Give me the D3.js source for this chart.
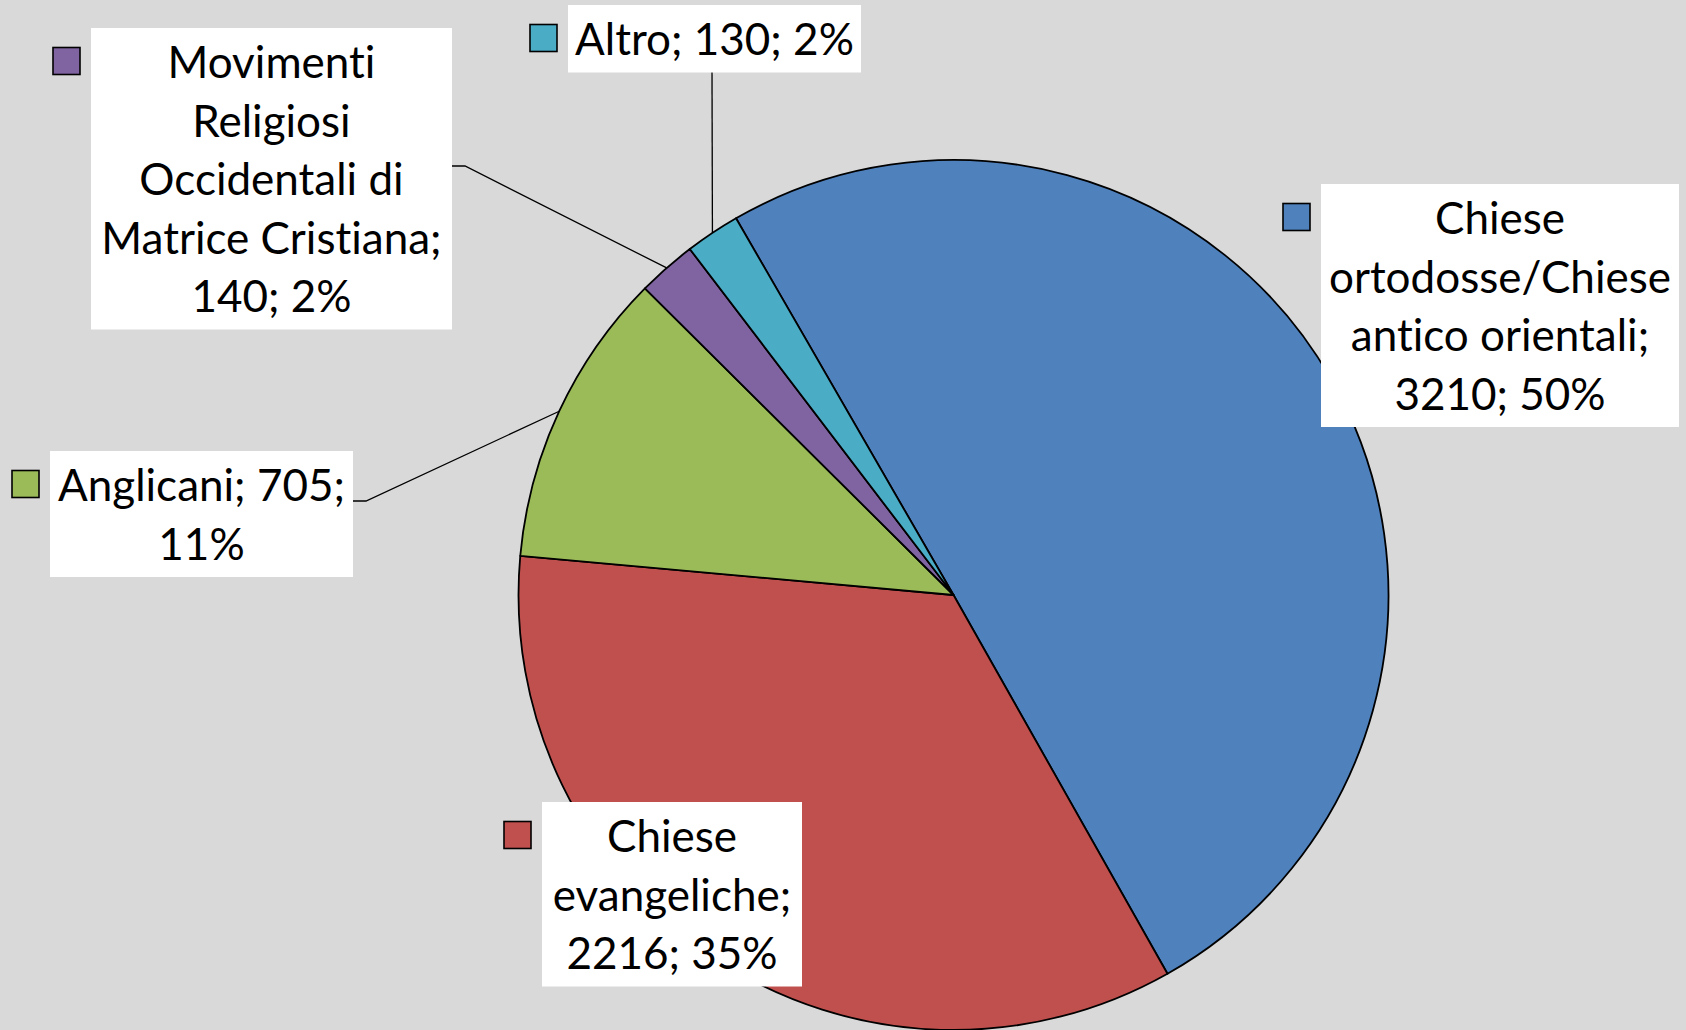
<!DOCTYPE html>
<html><head><meta charset="utf-8">
<script src="https://cdn.jsdelivr.net/npm/d3@7"></script>
<style>html,body{margin:0;padding:0;background:#d9d9d9;overflow:hidden}
text{font-variant-ligatures:none;font-feature-settings:"liga" 0,"clig" 0}</style>
</head><body><svg id="c" width="1686" height="1030"></svg>
<script>
// ---- data ----
const categories = ["Chiese ortodosse/Chiese antico orientali", "Chiese evangeliche", "Anglicani",
  "Movimenti Religiosi Occidentali di Matrice Cristiana", "Altro"];
const values = [3210, 2216, 705, 140, 130];
// words per wrapped label line
const lineWordCounts = [[1, 1, 2, 2], [1, 1, 2], [2, 1], [1, 1, 2, 2, 2], [3]];

// ---- styles / layout ----
const colors = ["#4F81BD", "#C0504D", "#9BBB59", "#8064A2", "#4BACC6"];
const boxes = [ // x, y, width of label box
  [1321, 184, 358], [542, 802, 260], [50, 451, 303], [91, 28, 361], [568, 5, 293]];
const leaders = [null, null, [[353, 501], [366, 501]], [[452, 166], [465, 166]], [[712, 72]]];
const cx = 953.5, cy = 595, R = 435;
const lineH = 58.5, pad = 4.5, baseOff = 50;
const fontFamily = "Lato, 'Open Sans', sans-serif", fontSize = 44;

const svg = d3.select("#c");
svg.append("rect").attr("width", 1686).attr("height", 1030).attr("fill", "#d9d9d9");

const total = d3.sum(values);
const data = categories.map((c, i) => ({c, v: values[i], i}));
const pie = d3.pie().sort(null).value(d => d.v)
  .startAngle(-30 * Math.PI / 180).endAngle(330 * Math.PI / 180);
const arcs = pie(data);
const arc = d3.arc().innerRadius(0).outerRadius(R);
const edgeArc = d3.arc().innerRadius(R).outerRadius(R);

const g = svg.append("g").attr("transform", `translate(${cx},${cy})`);
g.selectAll("path").data(arcs).join("path")
  .attr("d", arc).attr("fill", d => colors[d.data.i])
  .attr("stroke", "#000").attr("stroke-width", 1.8).attr("stroke-linejoin", "round");

// leader lines
arcs.forEach(a => {
  const L = leaders[a.data.i];
  if (!L) return;
  const e = edgeArc.centroid(a);
  const pts = L.map(p => [p[0], p[1]]).concat([[cx + e[0], cy + e[1]]]);
  svg.append("path").attr("d", d3.line()(pts)).attr("fill", "none")
    .attr("stroke", "#000").attr("stroke-width", 1.3);
});

// labels
arcs.forEach(a => {
  const i = a.data.i;
  const pct = Math.round(a.data.v / total * 100);
  const words = `${a.data.c}; ${a.data.v}; ${pct}%`.split(" ");
  const lines = [];
  let k = 0;
  lineWordCounts[i].forEach(n => { lines.push(words.slice(k, k + n).join(" ")); k += n; });
  const [bx, by, bw] = boxes[i];
  const bh = lines.length * lineH + 2 * pad;
  svg.append("rect").attr("x", bx).attr("y", by).attr("width", bw).attr("height", bh).attr("fill", "#fff");
  svg.append("rect").attr("x", bx - 38).attr("y", by + 19.5).attr("width", 27).attr("height", 27)
    .attr("fill", colors[i]).attr("stroke", "#000").attr("stroke-width", 1.6);
  const t = svg.append("text").attr("text-anchor", "middle")
    .attr("font-family", fontFamily).attr("font-size", fontSize).attr("fill", "#000");
  lines.forEach((ln, j) => {
    t.append("tspan").attr("x", bx + bw / 2).attr("y", by + baseOff + j * lineH).text(ln);
  });
});
</script></body></html>
